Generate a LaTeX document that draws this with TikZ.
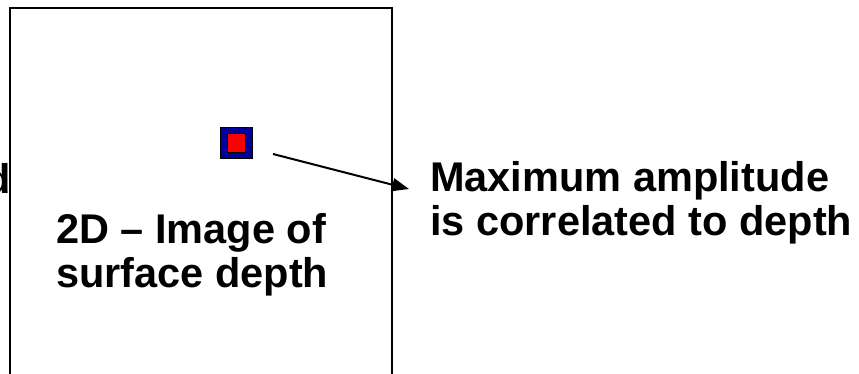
\documentclass[tikz,border=0pt]{standalone}
\usepackage{fontspec}
\setmainfont{Liberation Sans}
\usetikzlibrary{arrows.meta}

\definecolor{pixblue}{RGB}{0,0,153}
\definecolor{pixred}{RGB}{255,0,0}

\tikzset{
    label/.style={inner sep=0pt,align=left,font=\bfseries\fontsize{41.5}{44}\selectfont},
    pixel/.style={draw=black,line width=1pt,inner sep=0pt}
}

\begin{document}
\begin{tikzpicture}[x=1pt,y=-1pt,>={Triangle[length=17pt,width=13pt]}]
    \clip (0,0) rectangle (859,374);
    \fill[white] (0,0) rectangle (859,374);

    \draw[line width=2pt] (10,380) -- (10,8) -- (392,8) -- (392,380);

    \node[label,anchor=base east] (cut) at (11,194) {d};

    \node[pixel,fill=pixblue,minimum width=32pt,minimum height=31pt] (outer) at (236.5,143.5) {};
    \node[pixel,fill=pixred,minimum width=18pt,minimum height=19pt] (inner) at (outer.center) {};

    \node[label,anchor=base west] (depth) at (56,287) {2D -- Image of\\surface depth};
    \node[label,anchor=base west] (amp) at (430,236) {Maximum amplitude\\is correlated to depth};

    \coordinate (tail) at (273,154);
    \coordinate (tip) at (409,189);
    \draw[->,line width=2pt] (tail) -- (tip);
\end{tikzpicture}
\end{document}
